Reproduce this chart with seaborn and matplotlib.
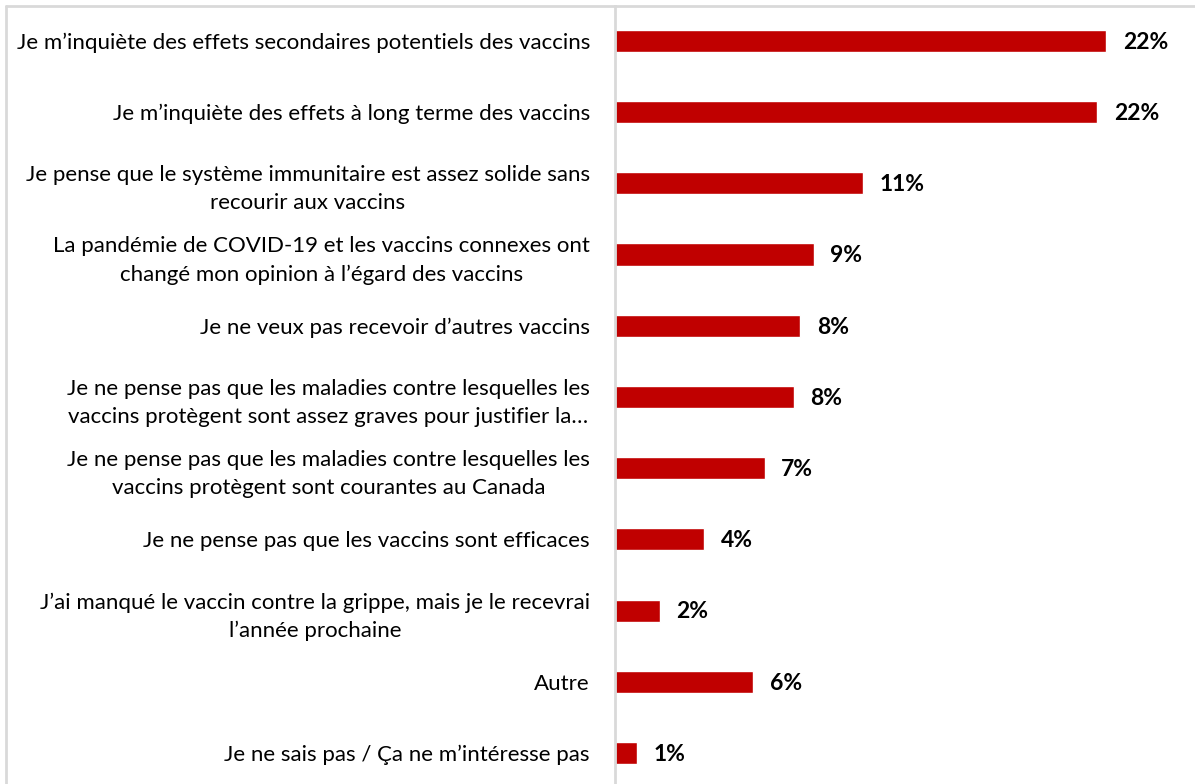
import matplotlib
matplotlib.use("Agg")
import matplotlib.pyplot as plt
import seaborn as sns
import pandas as pd
from matplotlib.lines import Line2D

# Raisons invoquées (en %)
categories = [
    "Je m\u2019inquiète des effets secondaires potentiels des vaccins",
    "Je m\u2019inquiète des effets à long terme des vaccins",
    "Je pense que le système immunitaire est assez solide sans\nrecourir aux vaccins",
    "La pandémie de COVID-19 et les vaccins connexes ont\nchangé mon opinion à l\u2019égard des vaccins",
    "Je ne veux pas recevoir d\u2019autres vaccins",
    "Je ne pense pas que les maladies contre lesquelles les\nvaccins protègent sont assez graves pour justifier la\u2026",
    "Je ne pense pas que les maladies contre lesquelles les\nvaccins protègent sont courantes au Canada",
    "Je ne pense pas que les vaccins sont efficaces",
    "J\u2019ai manqué le vaccin contre la grippe, mais je le recevrai\nl\u2019année prochaine",
    "Autre",
    "Je ne sais pas / Ça ne m\u2019intéresse pas",
]
values = [22.0, 21.6, 11.1, 8.9, 8.3, 8.0, 6.7, 4.0, 2.0, 6.2, 1.0]

df = pd.DataFrame({"raison": categories, "pct": values})

sns.set_theme(style="white")
plt.rcParams["font.family"] = ["Lato", "DejaVu Sans"]

W, H = 1195, 784
fig = plt.figure(figsize=(W / 100, H / 100), dpi=100)
ax = fig.add_axes([615 / W, 0.0, (1193 - 615) / W, (H - 6) / H])

sns.barplot(data=df, x="pct", y="raison", orient="h", color="#C00000",
            width=0.31, saturation=1, ax=ax)

ax.set_xlim(0, 578 / 22.32)
ax.set_ylim(10.435, -0.49)
ax.set_xlabel("")
ax.set_ylabel("")
ax.set_xticks([])

for s in ["top", "right", "bottom"]:
    ax.spines[s].set_visible(False)
ax.spines["left"].set_color("#D9D9D9")
ax.spines["left"].set_linewidth(2)

ax.tick_params(axis="y", length=0, pad=18)
for lab in ax.get_yticklabels():
    lab.set_fontsize(16)
    lab.set_multialignment("center")
    lab.set_linespacing(1.5)
    lab.set_color("#000000")

for i, v in enumerate(values):
    ax.annotate(f"{round(v):.0f}%", xy=(v, i), xytext=(12, -1),
                textcoords="offset points", va="center", ha="left",
                fontsize=16.5, fontweight="bold", color="#000000")

# cadre gris clair (haut et gauche)
fig.add_artist(Line2D([5.5 / W, 1.0], [1 - 5.5 / H, 1 - 5.5 / H],
                      transform=fig.transFigure, color="#D9D9D9", lw=2))
fig.add_artist(Line2D([5.5 / W, 5.5 / W], [0.0, 1 - 5.5 / H],
                      transform=fig.transFigure, color="#D9D9D9", lw=2))

fig.savefig("out.png", dpi=100, facecolor="white")
